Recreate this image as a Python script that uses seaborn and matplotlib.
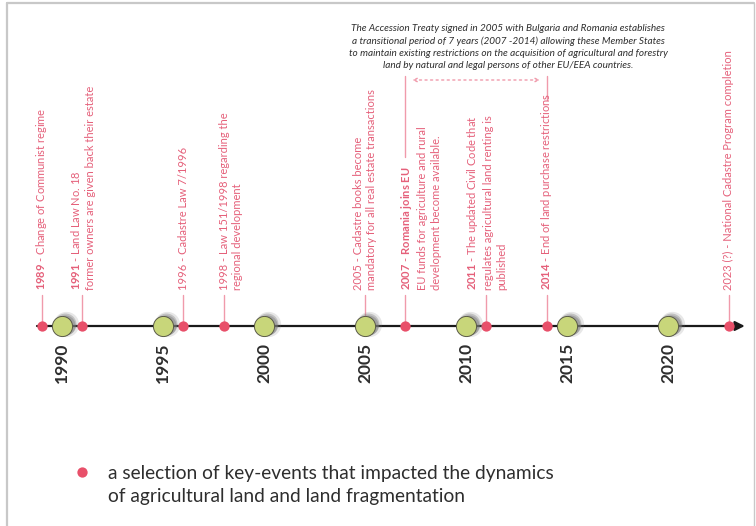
import matplotlib
matplotlib.use("Agg")
import matplotlib.pyplot as plt
from matplotlib.lines import Line2D
from matplotlib import transforms
import numpy as np
import seaborn as sns

# ---------------- data ----------------
tick_years = [1990, 1995, 2000, 2005, 2010, 2015, 2020]
event_years = [1989, 1991, 1996, 1998, 2005, 2007, 2011, 2014, 2023]
event_labels = [
    r"$\mathbf{1989}$ - Change of Communist regime",
    r"$\mathbf{1991}$ - Land Law No. 18" + "\n" + "former owners are given back their estate",
    "1996 - Cadastre Law 7/1996",
    "1998 - Law 151/1998 regarding the\nregional development",
    "2005 - Cadastre books become\nmandatory for all real estate transactions",
    r"$\mathbf{2007}$ - $\mathbf{Romania\ joins\ EU}$" + "\n"
    + "EU funds for agriculture and rural\ndevelopment become available.",
    r"$\mathbf{2011}$ - The updated Civil Code that" + "\n"
    + "regulates agricultural land renting is\npublished",
    r"$\mathbf{2014}$ - End of land purchase restrictions",
    "2023 (?) - National Cadastre Program completion",
]
period_start, period_end = 2007, 2014
treaty_note = ("The Accession Treaty signed in 2005 with Bulgaria and Romania establishes\n"
               "a transitional period of 7 years (2007 -2014) allowing these Member States\n"
               "to maintain existing restrictions on the acquisition of agricultural and forestry\n"
               "land by natural and legal persons of other EU/EEA countries.")
legend_text = ("a selection of key-events that impacted the dynamics\n"
               "of agricultural land and land fragmentation")

# ---------------- style ----------------
stem_line_index = [0, 0.5, 0, 0, 0.5, 0, 1, 0, 0]   # which text line sits on the stem
PINK_TXT = "#e5607a"
PINK_DOT = "#e8506a"
PINK_STEM = "#f09aab"
GREEN = "#c8d67a"
DARK = "#2e2e2e"
W, H = 756, 526
LINE_PX = 326           # timeline pixel row
LABEL_GAP = 36          # text starts this many px above the line
STEM_TOP = 31
UPPER_TOP = 250          # top of the 2007 / 2014 extension lines
upper_from = {2007: 169, 2014: 226}
LABEL_LS_PT = 10.6       # spacing between label lines, points

sns.set_theme(style="white")
plt.rcParams["font.family"] = ["Lato", "DejaVu Sans"]
plt.rcParams["mathtext.fontset"] = "custom"
plt.rcParams["mathtext.rm"] = "Lato"
plt.rcParams["mathtext.bf"] = "Lato:bold"
plt.rcParams["mathtext.it"] = "Lato:italic"

fig = plt.figure(figsize=(W / 100, H / 100), dpi=100)
fig.patch.set_facecolor("white")
ax = fig.add_axes([0, 0, 1, 1])
ax.set_facecolor("white")

px_per_year = 20.2
x0_year = 1990 - 62 / px_per_year
ax.set_xlim(x0_year, x0_year + W / px_per_year)
ax.set_ylim(LINE_PX - H, LINE_PX)   # y = 0 is the timeline

for s in ax.spines.values():
    s.set_visible(False)
ax.spines["bottom"].set_position(("data", 0))
ax.set_yticks([])
ax.set_xticks(tick_years)
ax.set_xticklabels([str(y) for y in tick_years], rotation=90, fontsize=12.5,
                   fontweight="bold", color=DARK)
ax.tick_params(axis="x", length=0, pad=12)

# timeline arrow
ax.annotate("", xy=(2023.8, 0), xytext=(1990 - 25 / px_per_year, 0),
            arrowprops=dict(arrowstyle="-|>", color="#1a1a1a", lw=1.6,
                            mutation_scale=14, shrinkA=0, shrinkB=0), zorder=2)

# stems
for yr in event_years:
    ax.plot([yr, yr], [0, STEM_TOP], color=PINK_STEM, lw=1.0, zorder=1)
for yr, y1 in upper_from.items():
    ax.plot([yr, yr], [y1, UPPER_TOP], color=PINK_STEM, lw=1.0, zorder=1)

# dotted double arrow of the transitional period
ax.annotate("", xy=(period_end, UPPER_TOP - 4), xytext=(period_start, UPPER_TOP - 4),
            arrowprops=dict(arrowstyle="<->", color=PINK_STEM, lw=1.0, ls=(0, (1.5, 2.5)),
                            mutation_scale=6, shrinkA=5, shrinkB=5))

# event dots (drawn below the green circles)
sns.scatterplot(x=event_years, y=np.zeros(len(event_years)), s=55, color=PINK_DOT,
                edgecolor=PINK_DOT, linewidth=0, zorder=3, ax=ax, legend=False)

# green tick circles with shadow
for dx, dy, a, sz in [(3.5, 2.5, 0.18, 330), (3, 2, 0.35, 250), (2.5, 1.5, 0.45, 210)]:
    tr = transforms.offset_copy(ax.transData, fig=fig, x=dx, y=dy, units="dots")
    ax.scatter(tick_years, np.zeros(len(tick_years)), s=sz, color="#7a7a7a",
               alpha=a, linewidths=0, transform=tr, zorder=3.5)
sns.scatterplot(x=tick_years, y=np.zeros(len(tick_years)), s=210, color=GREEN,
                edgecolor="#5a5a48", linewidth=0.7, zorder=4, ax=ax, legend=False)

# event labels
for yr, lab, k in zip(event_years, event_labels, stem_line_index):
    n = lab.count("\n") + 1
    dx = ((n - 1) / 2 - k) * LABEL_LS_PT
    ax.annotate(lab, xy=(yr, LABEL_GAP), xytext=(dx, 0), textcoords="offset points",
                rotation=90, ha="center", va="bottom", multialignment="left",
                fontsize=8, color=PINK_TXT, linespacing=1.32, zorder=6)

# treaty note
fig.text(508 / W, 1 - 47 / H, treaty_note, ha="center", va="center", fontsize=7.2,
         style="italic", color=DARK, linespacing=1.45)

# legend
ax.scatter([82 / W], [1 - 472 / H], s=55, color=PINK_DOT, linewidths=0,
           transform=ax.transAxes)
fig.text(108 / W, 1 - 485 / H, legend_text, ha="left", va="center", fontsize=13.8,
         color=DARK, linespacing=1.38)

# frame
fc = "#c8c8c8"
fig.add_artist(Line2D([7 / W, 7 / W], [0, 1 - 3 / H], color=fc, lw=1.6, transform=fig.transFigure))
fig.add_artist(Line2D([7 / W, 754 / W], [1 - 3 / H, 1 - 3 / H], color=fc, lw=1.6, transform=fig.transFigure))
fig.add_artist(Line2D([754 / W, 754 / W], [0, 1 - 3 / H], color=fc, lw=1.0, transform=fig.transFigure))

fig.savefig("out.png", dpi=100, facecolor="white")
